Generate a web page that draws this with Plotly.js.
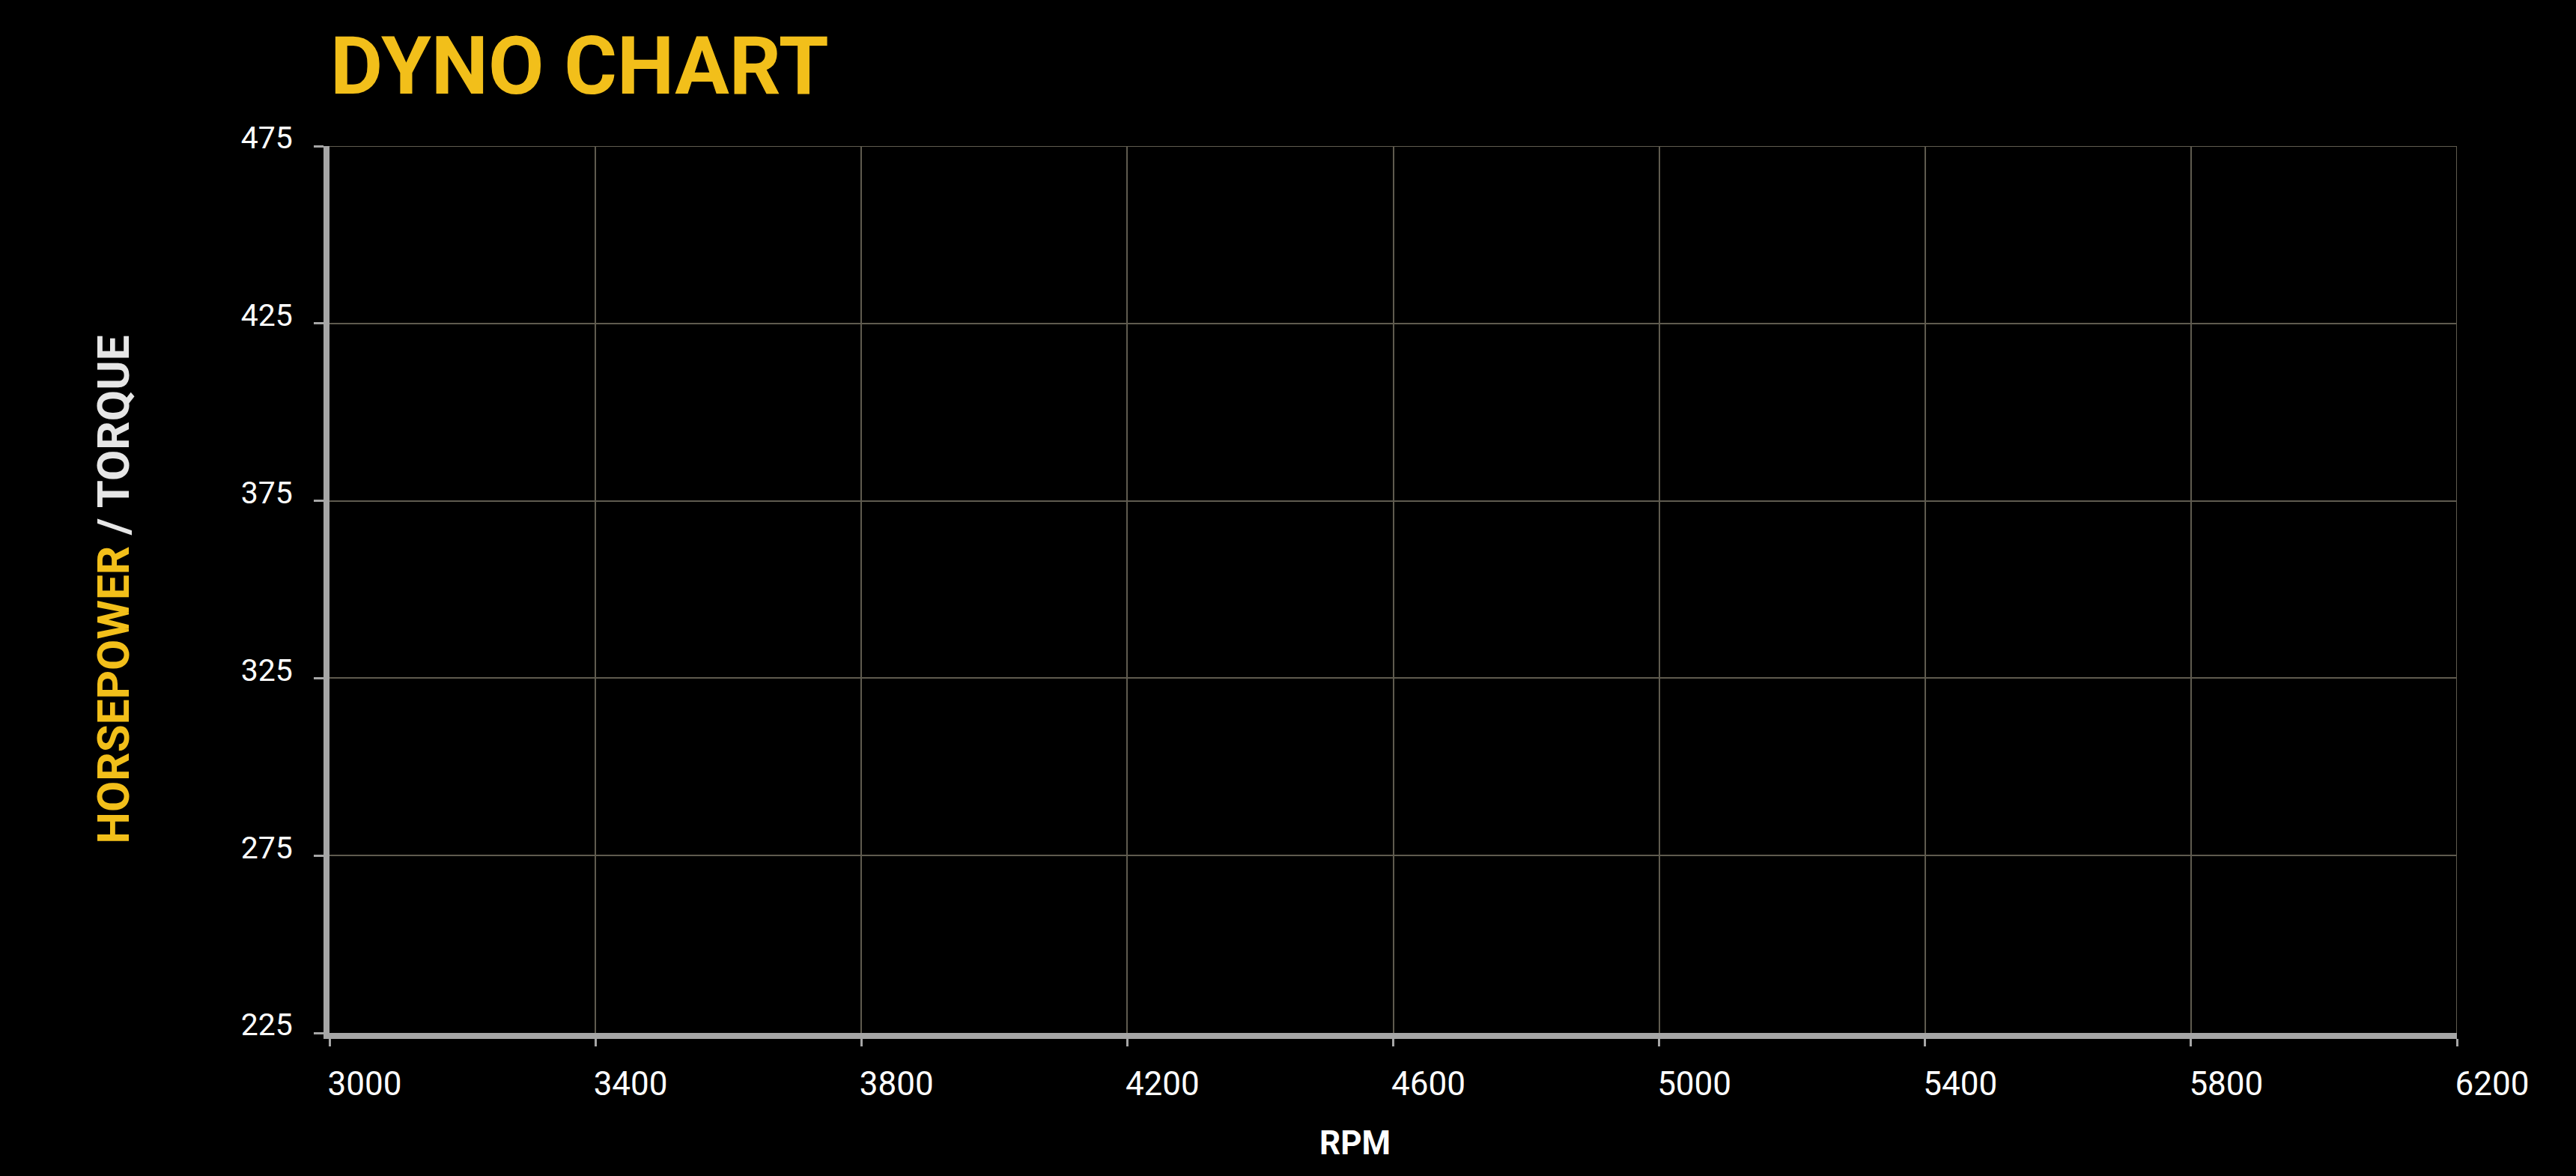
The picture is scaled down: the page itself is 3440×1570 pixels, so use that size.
<!DOCTYPE html>
<html>
<head>
<meta charset="utf-8">
<script src="https://cdn.plot.ly/plotly-3.0.1.min.js"></script>
<style>
  html, body { margin: 0; padding: 0; background: #000; }
  #chart { width: 3440px; height: 1570px; }
</style>
</head>
<body>
<div id="chart"></div>
<script>
// Engine speed ticks (RPM) and power/torque ticks
const rpmTicks = [3000, 3400, 3800, 4200, 4600, 5000, 5400, 5800, 6200];
const powerTicks = [225, 275, 325, 375, 425, 475];

// Dyno run results (no pulls recorded yet)
const rpm = [];
const horsepower = [];
const torque = [];

const gold = '#F2BF1A';
const axisGrey = '#a6a6a6';
const gridGrey = '#5f5b4f';

const rpmMax = rpmTicks[rpmTicks.length - 1];
const powerMax = powerTicks[powerTicks.length - 1];

const traces = [
  { x: rpm, y: horsepower, name: 'Horsepower', type: 'scatter', mode: 'lines',
    line: { color: gold, width: 6 } },
  { x: rpm, y: torque, name: 'Torque', type: 'scatter', mode: 'lines',
    line: { color: '#e6e6e6', width: 6 } }
];

const layout = {
  width: 3440,
  height: 1570,
  paper_bgcolor: '#000',
  plot_bgcolor: '#000',
  showlegend: false,
  margin: { l: 440, r: 159, t: 195, b: 191, pad: 0 },
  font: { family: 'Roboto, "Open Sans", sans-serif', color: '#ffffff' },
  title: {
    text: 'DYNO CHART',
    font: { family: 'Roboto, sans-serif', size: 108, weight: 700, color: gold },
    xref: 'container', x: 441 / 3440, xanchor: 'left',
    yref: 'container', y: 1 - 87 / 1570, yanchor: 'middle'
  },
  xaxis: {
    range: [rpmTicks[0], rpmMax],
    tickmode: 'array',
    tickvals: rpmTicks,
    ticktext: rpmTicks.map(String),
    ticks: 'outside', ticklen: 10, tickwidth: 3, tickcolor: axisGrey,
    ticklabelposition: 'outside right',
    ticklabelstandoff: 22,
    ticklabelshift: -8,
    tickfont: { family: 'Roboto, sans-serif', size: 44, color: '#ffffff' },
    showline: true, linecolor: axisGrey, linewidth: 8,
    showgrid: true, gridcolor: gridGrey, gridwidth: 2,
    zeroline: false, fixedrange: true
  },
  yaxis: {
    range: [powerTicks[0], powerMax],
    tickmode: 'array',
    tickvals: powerTicks,
    ticktext: powerTicks.map(String),
    ticks: 'outside', ticklen: 13, tickwidth: 3, tickcolor: axisGrey,
    ticklabelstandoff: 20,
    ticklabelshift: -11,
    tickfont: { family: 'Roboto, sans-serif', size: 41, color: '#ffffff' },
    showline: true, linecolor: axisGrey, linewidth: 8,
    showgrid: true, gridcolor: gridGrey, gridwidth: 2,
    zeroline: false, fixedrange: true,
    automargin: false,
    title: {
      text: '<span style="color:' + gold + '">HORSEPOWER</span> / TORQUE',
      font: { family: 'Roboto, sans-serif', size: 60, weight: 700, color: '#e6e6e6' },
      standoff: 133
    }
  },
  // Grid lines along the top and right borders of the plot area
  shapes: [
    { type: 'line', xref: 'paper', yref: 'y', x0: 0, x1: 1, y0: powerMax, y1: powerMax,
      line: { color: gridGrey, width: 2 }, layer: 'below' },
    { type: 'line', xref: 'x', yref: 'paper', x0: rpmMax, x1: rpmMax, y0: 0, y1: 1,
      line: { color: gridGrey, width: 2 }, layer: 'below' }
  ],
  annotations: [
    {
      text: 'RPM',
      xref: 'paper', yref: 'paper',
      x: 0.482, y: -0.124,
      xanchor: 'center', yanchor: 'middle',
      showarrow: false,
      font: { family: 'Roboto, sans-serif', size: 44, weight: 700, color: '#ffffff' }
    }
  ]
};

Plotly.newPlot('chart', traces, layout, { staticPlot: true, displayModeBar: false });
</script>
</body>
</html>
